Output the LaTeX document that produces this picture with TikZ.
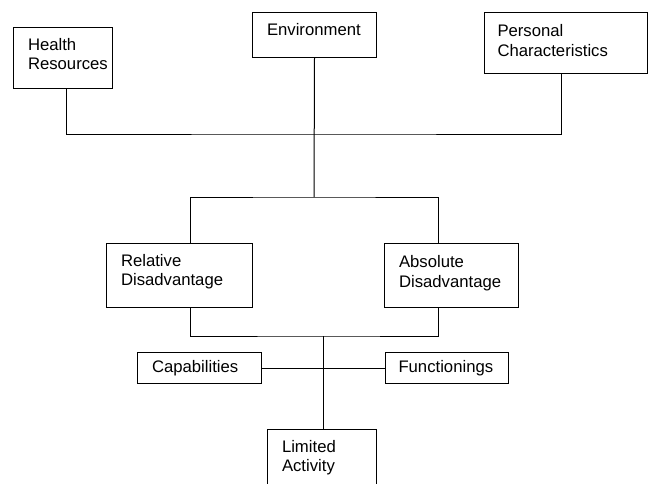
\documentclass[tikz,border=0pt]{standalone}
\usepackage{fontspec}
\setmainfont{Liberation Sans}
\begin{document}
\begin{tikzpicture}[x=1pt, y=-1pt, line width=1pt,
    box/.style={draw, anchor=north west, inner sep=0pt},
    txt/.style={anchor=north west, align=left, inner xsep=14.5pt, inner ysep=10.5pt,
        font=\fontsize{16.7}{19.5}\selectfont}]
    \clip (0,0) rectangle (653,483);

    % Boxes at the top
    \node[box, minimum width=99pt, minimum height=61pt] (health) at (13,27) {};
    \node[txt] (healthtxt) at (health.north west) {Health\\Resources};
    \node[box, minimum width=124pt, minimum height=45pt] (env) at (252,12) {};
    \node[txt] (envtxt) at (env.north west) {Environment};
    \node[box, minimum width=163pt, minimum height=61pt] (pers) at (484,12) {};
    \node[txt, inner xsep=13pt, inner ysep=12pt] (perstxt) at (pers.north west) {Personal\\Characteristics};

    % Disadvantage boxes
    \node[box, minimum width=146pt, minimum height=64pt] (rel) at (106,243) {};
    \node[txt] (reltxt) at (rel.north west) {Relative\\Disadvantage};
    \node[box, minimum width=134pt, minimum height=64pt] (abs) at (384,243) {};
    \node[txt, inner ysep=12pt] (abstxt) at (abs.north west) {Absolute\\Disadvantage};

    % Boxes at the bottom
    \node[box, minimum width=124pt, minimum height=31pt] (cap) at (137,352) {};
    \node[txt, inner ysep=8pt] (captxt) at (cap.north west) {Capabilities};
    \node[box, minimum width=123pt, minimum height=31pt] (fun) at (385,352) {};
    \node[txt, inner xsep=13pt, inner ysep=8pt] (funtxt) at (fun.north west) {Functionings};
    \node[box, minimum width=109pt, minimum height=80pt] (lim) at (267,429) {};
    \node[txt] (limtxt) at (lim.north west) {Limited\\Activity};

    % Joints of the lines
    \coordinate (topbus) at (314,134);
    \coordinate (midbus) at (314,197);
    \coordinate (lowbus) at (323,336);

    % Lines
    \draw ([xshift=3.5pt]health.south) |- (topbus) -| ([xshift=-4.5pt]pers.south);
    \draw (env.south) -- (midbus);
    \draw ([xshift=11pt]rel.north) |- (midbus) -| ([xshift=-13pt]abs.north);
    \draw ([xshift=11pt]rel.south) |- (lowbus) -| ([xshift=-13pt]abs.south);
    \draw (lowbus) -- (lowbus |- lim.north);
    \draw (cap.east) -- (fun.west);
\end{tikzpicture}
\end{document}
